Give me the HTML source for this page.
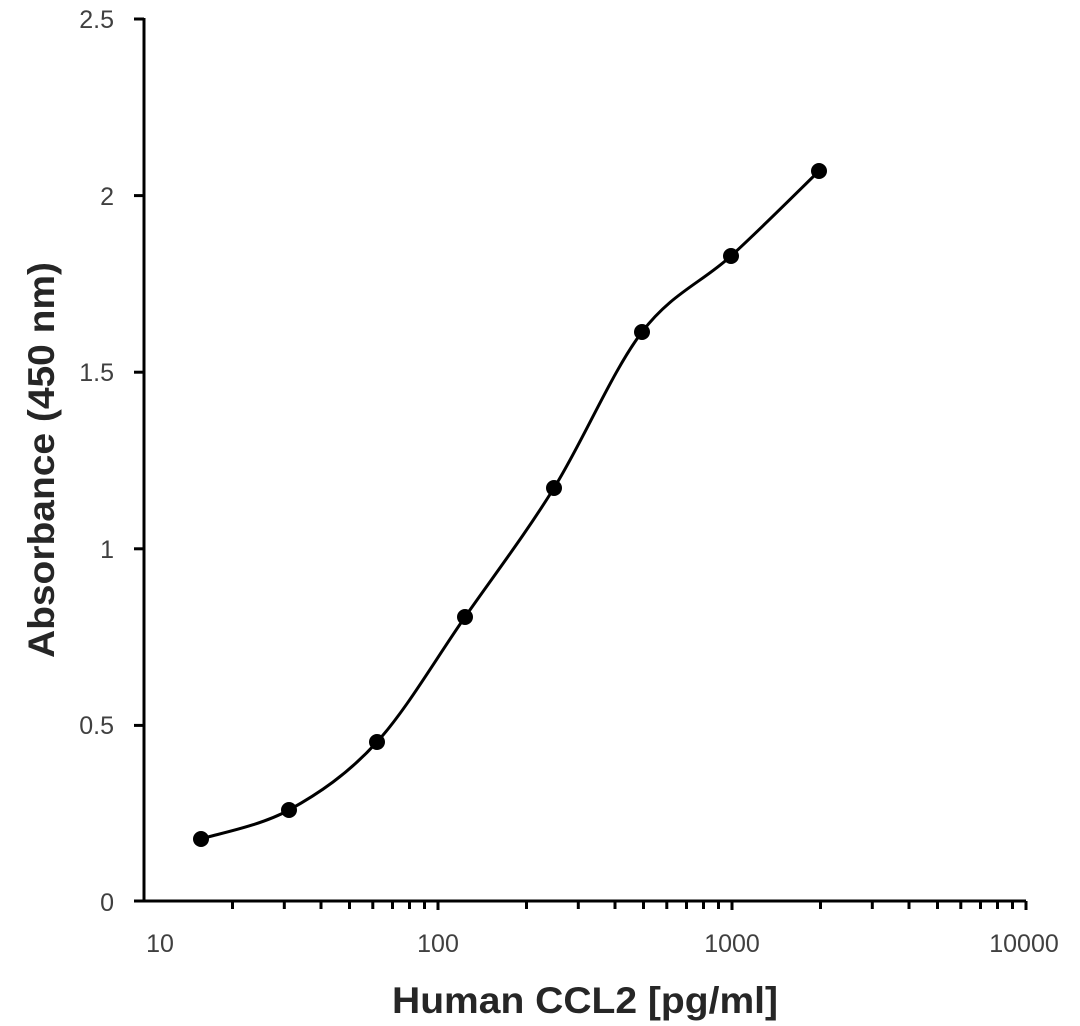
<!DOCTYPE html>
<html><head><meta charset="utf-8"><style>
html,body{margin:0;padding:0;background:#fff;}
svg{display:block;}
text{font-family:"Liberation Sans",sans-serif;}
</style></head><body>
<svg width="1080" height="1026" viewBox="0 0 1080 1026" xmlns="http://www.w3.org/2000/svg">
<g stroke="#000" stroke-width="3" fill="none">
<line x1="144" y1="18" x2="144" y2="902"/>
<line x1="134" y1="901" x2="1026" y2="901"/>
<line x1="134" y1="19" x2="144" y2="19"/>
<line x1="134" y1="195.6" x2="144" y2="195.6"/>
<line x1="134" y1="372.2" x2="144" y2="372.2"/>
<line x1="134" y1="548.8" x2="144" y2="548.8"/>
<line x1="134" y1="725.4" x2="144" y2="725.4"/>
<g id="dec">
<line x1="232.5" y1="901" x2="232.5" y2="909"/>
<line x1="284.3" y1="901" x2="284.3" y2="909"/>
<line x1="321" y1="901" x2="321" y2="909"/>
<line x1="349.5" y1="901" x2="349.5" y2="909"/>
<line x1="372.8" y1="901" x2="372.8" y2="909"/>
<line x1="392.5" y1="901" x2="392.5" y2="909"/>
<line x1="409.5" y1="901" x2="409.5" y2="909"/>
<line x1="424.5" y1="901" x2="424.5" y2="909"/>
<line x1="438" y1="901" x2="438" y2="910"/>
</g>
<use href="#dec" transform="translate(294,0)"/>
<use href="#dec" transform="translate(588,0)"/>
<path d="M201,839 C215.7,834.2 259.7,826.2 289,810 C318.3,793.8 347.7,774.2 377,742 C406.3,709.8 435.5,659.3 465,617 C494.5,574.7 524.5,535.5 554,488 C583.5,440.5 612.5,370.7 642,332 C671.5,293.3 701.5,282.8 731,256 C760.5,229.2 804.3,185.2 819,171"/>
</g>
<g fill="#000">
<circle cx="201" cy="839" r="8"/><circle cx="289" cy="810" r="8"/><circle cx="377" cy="742" r="8"/><circle cx="465" cy="617" r="8"/><circle cx="554" cy="488" r="8"/><circle cx="642" cy="332" r="8"/><circle cx="731" cy="256" r="8"/><circle cx="819" cy="171" r="8"/>
</g>
<g fill="#404040" font-size="25">
<g text-anchor="end">
<text x="114" y="28">2.5</text>
<text x="114" y="205">2</text>
<text x="114" y="381">1.5</text>
<text x="114" y="558">1</text>
<text x="114" y="734">0.5</text>
<text x="114" y="911">0</text>
</g>
<g text-anchor="middle">
<text x="160" y="952">10</text>
<text x="438" y="952">100</text>
<text x="732" y="952">1000</text>
<text x="1024" y="952">10000</text>
</g>
</g>
<text x="585" y="1013" text-anchor="middle" font-size="37" font-weight="bold" fill="#262626" textLength="386" lengthAdjust="spacingAndGlyphs">Human CCL2 [pg/ml]</text>
<text transform="translate(54,460) rotate(-90)" text-anchor="middle" font-size="37" font-weight="bold" fill="#262626" textLength="396" lengthAdjust="spacingAndGlyphs">Absorbance (450 nm)</text>
</svg>
</body></html>
